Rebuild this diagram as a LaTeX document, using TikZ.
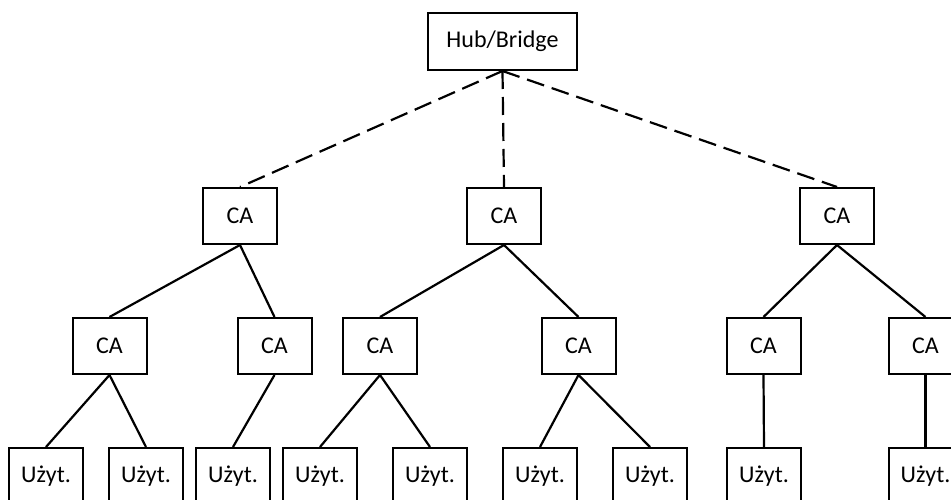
\documentclass[tikz,border=0pt]{standalone}
\usepackage{fontspec}
\setmainfont{Carlito}
\begin{document}
\begin{tikzpicture}[x=1pt,y=-1pt,
  box/.style={draw,line width=2pt,rectangle,minimum width=74pt,minimum height=56pt,inner sep=0pt,font=\fontsize{24}{28}\selectfont},
  hubbox/.style={box,minimum width=149pt,minimum height=57pt},
  link/.style={line width=2.2pt},
  dlink/.style={line width=2.2pt,dash pattern=on 18pt off 8pt}]
\useasboundingbox (0,0) rectangle (951,500);
\clip (0,0) rectangle (951,500);
\node[hubbox] (hub) at (502.5,41.5) {Hub/Bridge};
\node[box] (a) at (240,216) {CA};
\node[box] (b) at (504,216) {CA};
\node[box] (c) at (837,216) {CA};
\node[box] (a1) at (109.5,346) {CA};
\node[box] (a2) at (274.5,346) {CA};
\node[box] (b1) at (380,346) {CA};
\node[box] (b2) at (578.5,346) {CA};
\node[box] (c1) at (763.5,346) {CA};
\node[box] (c2) at (925.5,346) {CA};
\node[box] (u1) at (46,476) {Użyt.};
\node[box] (u2) at (146,476) {Użyt.};
\node[box] (u3) at (233,476) {Użyt.};
\node[box] (u4) at (320,476) {Użyt.};
\node[box] (u5) at (430,476) {Użyt.};
\node[box] (u6) at (540,476) {Użyt.};
\node[box] (u7) at (650,476) {Użyt.};
\node[box] (u8) at (764,476) {Użyt.};
\node[box] (u9) at (925.5,476) {Użyt.};
\draw[dlink] (hub.south) -- (a.north);
\draw[dlink] (hub.south) -- (b.north);
\draw[dlink] (hub.south) -- (c.north);
\draw[link] (a.south) -- (a1.north);
\draw[link] (a.south) -- (a2.north);
\draw[link] (b.south) -- (b1.north);
\draw[link] (b.south) -- (b2.north);
\draw[link] (c.south) -- (c1.north);
\draw[link] (c.south) -- (c2.north);
\draw[link] (a1.south) -- (u1.north);
\draw[link] (a1.south) -- (u2.north);
\draw[link] (a2.south) -- (u3.north);
\draw[link] (b1.south) -- (u4.north);
\draw[link] (b1.south) -- (u5.north);
\draw[link] (b2.south) -- (u6.north);
\draw[link] (b2.south) -- (u7.north);
\draw[link] (c1.south) -- (u8.north);
\draw[link] (c2.south) -- (u9.north);
\end{tikzpicture}
\end{document}
